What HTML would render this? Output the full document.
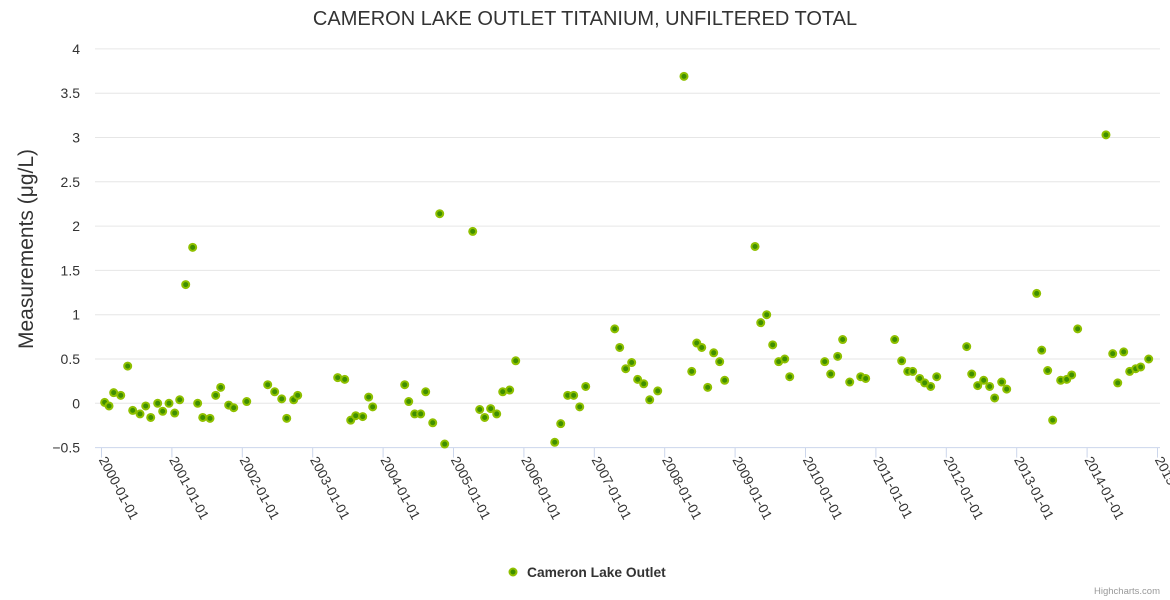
<!DOCTYPE html>
<html><head><meta charset="utf-8">
<style>
html,body{margin:0;padding:0;background:#fff;}
svg{display:block;font-family:"Liberation Sans",sans-serif;}
</style></head>
<body>
<svg id="chart" width="1170" height="600">
  <text x="585" y="25" text-anchor="middle" font-size="20" fill="#333">CAMERON LAKE OUTLET TITANIUM, UNFILTERED TOTAL</text>
  <text transform="translate(33,249) rotate(-90)" text-anchor="middle" font-size="21" fill="#333">Measurements (μg/L)</text>
  <g id="grid"></g>
  <g id="yticks"></g>
  <g id="xaxis"></g>
  <g id="points"></g>
  <g>
    <circle cx="513" cy="572" r="3.5" fill="#3f8f00" stroke="#8fc000" stroke-width="2"></circle>
    <text x="527" y="577" font-size="13.8" font-weight="bold" fill="#333">Cameron Lake Outlet</text>
  </g>
  <text x="1160" y="594" text-anchor="end" font-size="9.5" fill="#999">Highcharts.com</text>
</svg>
<script>
const yTicks = [-0.5, 0, 0.5, 1, 1.5, 2, 2.5, 3, 3.5, 4];
const xTickYears = [2000,2001,2002,2003,2004,2005,2006,2007,2008,2009,2010,2011,2012,2013,2014,2015];
// sample times as decimal years since 2000
const sampleYears = [0.045,0.107,0.173,0.273,0.372,0.443,0.547,0.628,0.699,0.798,0.869,0.959,1.040,1.111,1.196,1.295,1.366,1.438,1.541,1.622,1.693,1.807,1.878,2.063,2.361,2.460,2.560,2.631,2.730,2.787,3.355,3.455,3.540,3.611,3.710,3.795,3.852,
4.307,4.364,4.449,4.534,4.605,4.705,4.804,4.875,5.273,5.372,5.443,5.528,5.614,5.699,5.798,5.884,6.438,6.523,6.622,6.707,6.793,6.878,7.290,7.361,7.446,7.531,7.616,7.702,7.787,7.901,
8.274,8.384,8.455,8.526,8.611,8.696,8.781,8.852,9.283,9.364,9.449,9.534,9.619,9.705,9.776,10.273,10.358,10.457,10.528,10.628,10.784,10.855,11.267,11.366,11.452,11.523,11.622,11.693,11.778,11.864,
12.290,12.361,12.446,12.531,12.616,12.687,12.787,12.858,13.284,13.355,13.440,13.511,13.625,13.710,13.781,13.866,14.268,14.364,14.435,14.520,14.605,14.690,14.761,14.875];
const sampleValues = [0.01,-0.03,0.12,0.09,0.42,-0.08,-0.12,-0.03,-0.16,0.0,-0.09,0.0,-0.11,0.04,1.34,1.76,0.0,-0.16,-0.17,0.09,0.18,-0.02,-0.05,0.02,0.21,0.13,0.05,-0.17,0.04,0.09,0.29,0.27,-0.19,-0.14,-0.15,0.07,-0.04,
0.21,0.02,-0.12,-0.12,0.13,-0.22,2.14,-0.46,1.94,-0.07,-0.16,-0.06,-0.12,0.13,0.15,0.48,-0.44,-0.23,0.09,0.09,-0.04,0.19,0.84,0.63,0.39,0.46,0.27,0.22,0.04,0.14,
3.69,0.36,0.68,0.63,0.18,0.57,0.47,0.26,1.77,0.91,1.0,0.66,0.47,0.50,0.30,0.47,0.33,0.53,0.72,0.24,0.30,0.28,0.72,0.48,0.36,0.36,0.28,0.23,0.19,0.30,
0.64,0.33,0.20,0.26,0.19,0.06,0.24,0.16,1.24,0.60,0.37,-0.19,0.26,0.27,0.32,0.84,3.03,0.56,0.23,0.58,0.36,0.39,0.41,0.50];

const NS = "http://www.w3.org/2000/svg";
const L = 95, R = 1160, X0 = 101.5, PXY = 70.4;
const Y0 = 403.3, PXV = 88.6;
const xScale = t => X0 + t * PXY;
const yScale = v => Y0 - v * PXV;
function mk(tag, attrs, parent) {
  const e = document.createElementNS(NS, tag);
  for (const k in attrs) e.setAttribute(k, attrs[k]);
  parent.appendChild(e);
  return e;
}
const grid = document.getElementById('grid');
const yt = document.getElementById('yticks');
yTicks.forEach(v => {
  const y = yScale(v);
  if (v !== -0.5) {
    const ln = mk('line', {x1:L, x2:R, y1:y, y2:y, stroke:'#e6e6e6', 'stroke-width':1}, grid);
    
    
  }
  const t = mk('text', {x:80, y:y+5, 'text-anchor':'end', 'font-size':14, fill:'#333'}, yt);
  t.textContent = v < 0 ? '−' + Math.abs(v) : String(v);
  
  
});
const xa = document.getElementById('xaxis');
const axisY = yScale(-0.5);
const al = mk('line', {x1:L, x2:R, y1:axisY, y2:axisY, stroke:'#ccd6eb', 'stroke-width':1}, xa);


xTickYears.forEach(yr => {
  const x = xScale(yr - 2000);
  const tk = mk('line', {x1:x, x2:x, y1:axisY, y2:axisY+10, stroke:'#ccd6eb', 'stroke-width':1}, xa);
  
  
  const t = mk('text', {transform:`translate(${x-3},${axisY+12}) rotate(62)`, 'font-size':13.5, fill:'#333'}, xa);
  t.textContent = yr + '-01-01';
  
  
});
const pts = document.getElementById('points');
sampleYears.forEach((t, i) => {
  const c = mk('circle', {cx:xScale(t), cy:yScale(sampleValues[i]), r:3.5, fill:'#3f8f00', stroke:'#8fc000', 'stroke-width':2}, pts);
  
  
});
</script>
</body></html>
